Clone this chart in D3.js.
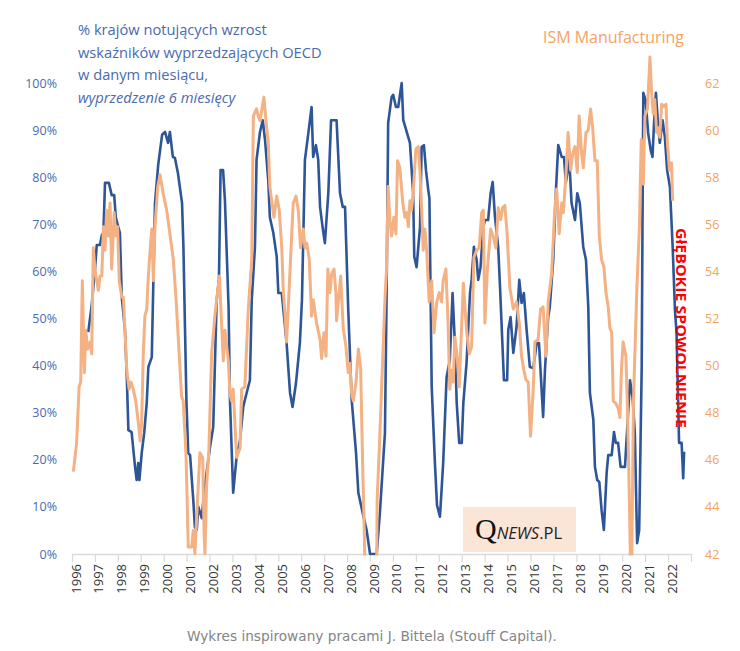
<!DOCTYPE html>
<html><head><meta charset="utf-8">
<script src="https://cdn.jsdelivr.net/npm/d3@7"></script>
<style>body{margin:0;background:#fff}svg{display:block}</style>
</head><body>
<svg id="c" width="740" height="651"></svg>
<script>
const yearLabels = ["1996","1997","1998","1999","2000","2001","2002","2003","2004","2005","2006","2007","2008","2009","2010","2011","2012","2013","2014","2015","2016","2017","2018","2019","2020","2021","2022"];
const yearTicks = [1996,1997,1998,1999,2000,2001,2002,2003,2004,2005,2006,2007,2008,2009,2010,2011,2012,2013,2014,2015,2016,2017,2018,2019,2020,2021,2022,2023];
const leftTicks = [0,10,20,30,40,50,60,70,80,90,100];
const rightTicks = [42,44,46,48,50,52,54,56,58,60,62];
const titleLines = ["% krajów notujących wzrost","wskaźników wyprzedzających OECD","w danym miesiącu,","wyprzedzenie 6 miesięcy"];
const ismLabel = "ISM Manufacturing";
const noteLabel = "GłĘBOKIE SPOWOLNIENIE";
const footer = "Wykres inspirowany pracami J. Bittela (Stouff Capital).";

// OECD: % of countries with rising leading indicators (6-month lead) [decimal year, %]
const oecdSeries = [
[1996.71,47.1],[1996.86,52.9],
[1997.00,60.3],[1997.08,65.6],[1997.22,65.6],[1997.30,67.7],[1997.37,68.2],[1997.44,78.8],[1997.61,78.8],[1997.73,76.2],[1997.84,76.2],[1997.91,71.5],
[1998.02,69.4],[1998.09,68.2],[1998.17,54.6],[1998.31,47.6],[1998.39,37.6],[1998.46,26.3],[1998.60,25.9],[1998.75,18.5],[1998.82,15.7],[1998.89,19.3],[1998.94,15.7],
[1999.04,21.4],[1999.15,25.7],[1999.26,32.1],[1999.33,39.7],[1999.48,41.8],[1999.55,58.2],[1999.62,74.5],[1999.76,82.6],[1999.93,89.0],
[2000.06,89.6],[2000.19,87.3],[2000.27,89.6],[2000.40,84.3],[2000.49,84.1],[2000.62,80.9],[2000.80,74.5],[2000.86,65.2],[2000.93,47.6],[2000.99,32.7],
[2001.07,21.4],[2001.15,21.0],[2001.29,11.5],[2001.36,5.7],[2001.44,5.1],[2001.51,10.0],[2001.66,7.6],[2001.73,11.5],[2001.87,17.2],
[2002.02,22.7],[2002.16,27.0],[2002.31,53.9],[2002.41,58.2],[2002.48,81.5],[2002.59,81.5],[2002.67,75.2],[2002.76,62.4],[2002.83,52.4],[2002.89,32.7],
[2003.03,13.0],[2003.18,20.6],[2003.33,24.2],[2003.47,31.2],[2003.54,32.7],[2003.76,36.9],[2003.84,53.9],[2003.98,65.2],
[2004.05,83.7],[2004.20,89.6],[2004.32,92.1],[2004.42,87.9],[2004.56,79.4],[2004.63,71.5],[2004.78,68.2],[2004.93,63.1],
[2005.00,55.4],[2005.15,55.4],[2005.36,44.8],[2005.51,34.2],[2005.62,31.2],[2005.77,36.3],[2005.94,44.8],
[2006.03,53.9],[2006.16,83.7],[2006.31,89.4],[2006.45,94.9],[2006.52,84.3],[2006.64,86.8],[2006.74,83.7],[2006.82,73.7],[2006.93,69.4],
[2007.03,66.0],[2007.18,76.6],[2007.30,92.1],[2007.54,92.1],[2007.69,76.6],[2007.81,73.7],[2007.91,73.7],
[2008.05,51.8],[2008.20,32.7],[2008.39,21.4],[2008.49,13.0],[2008.68,8.7],[2008.85,5.1],
[2009.00,0],[2009.29,0],[2009.43,8.7],[2009.65,25.7],[2009.72,53.9],[2009.79,91.5],[2009.94,97.0],
[2010.01,97.5],[2010.13,94.9],[2010.23,94.9],[2010.38,100],[2010.45,92.1],[2010.60,89.6],[2010.74,87.3],[2010.88,76.6],[2010.93,63.1],
[2011.03,60.9],[2011.18,69.4],[2011.25,86.4],[2011.35,86.8],[2011.44,81.5],[2011.54,77.3],[2011.59,75.5],[2011.69,35.5],[2011.83,19.3],[2011.92,10.4],
[2012.05,7.9],[2012.19,19.3],[2012.34,37.6],[2012.48,41.2],[2012.60,55.4],[2012.70,44.8],[2012.78,32.1],[2012.89,23.6],
[2013.00,23.6],[2013.07,32.1],[2013.21,40.6],[2013.36,55.4],[2013.43,58.2],[2013.53,65.2],[2013.65,62.4],[2013.72,58.2],[2013.82,60.9],[2013.94,69.4],
[2014.01,70.9],[2014.15,70.9],[2014.26,76.6],[2014.35,79.0],[2014.45,71.5],[2014.59,65.2],[2014.67,56.7],[2014.84,36.9],[2014.98,36.9],
[2015.03,47.6],[2015.13,50.3],[2015.25,42.7],[2015.39,48.2],[2015.51,58.2],[2015.61,53.3],[2015.71,55.4],[2015.83,47.6],[2015.97,39.7],
[2016.12,39.5],[2016.27,44.8],[2016.37,44.8],[2016.55,29.1],[2016.63,39.1],[2016.77,50.3],[2016.84,52.4],[2016.99,62.4],
[2017.11,77.3],[2017.21,86.8],[2017.36,84.3],[2017.46,84.3],[2017.54,78.8],[2017.69,83.7],[2017.79,74.5],[2017.94,70.9],
[2018.04,76.6],[2018.15,74.5],[2018.30,65.2],[2018.42,62.4],[2018.52,52.4],[2018.59,34.2],[2018.74,28.5],[2018.81,18.5],[2018.91,15.7],
[2019.00,15.3],[2019.10,9.3],[2019.20,5.1],[2019.32,17.2],[2019.39,21.0],[2019.54,21.0],[2019.64,25.9],[2019.72,23.6],[2019.82,23.6],[2019.93,18.5],
[2020.12,18.5],[2020.34,36.9],[2020.45,33.3],[2020.55,25.7],[2020.65,2.3],[2020.74,5.1],[2020.85,39.7],[2020.89,75.2],[2020.92,97.9],
[2021.02,96.4],[2021.13,89.4],[2021.24,85.8],[2021.32,84.3],[2021.38,90.7],[2021.47,97.9],[2021.57,90.7],[2021.64,87.3],[2021.76,92.1],[2021.86,88.5],[2021.96,81.5],
[2022.08,77.9],[2022.20,65.2],[2022.30,51.8],[2022.37,46.9],[2022.48,23.6],[2022.59,23.6],[2022.66,16.1],[2022.70,21.7]
];

// ISM Manufacturing PMI [decimal year, index]
const ismSeries = [
[1996.06,45.5],[1996.20,46.7],[1996.31,49.1],[1996.38,49.3],[1996.45,53.6],[1996.54,49.7],[1996.60,51.5],[1996.68,50.7],[1996.79,51.0],[1996.86,50.5],[1996.93,55.0],
[1997.00,54.1],[1997.08,53.6],[1997.15,53.2],[1997.22,53.8],[1997.30,53.8],[1997.37,55.9],[1997.44,54.9],[1997.51,56.6],[1997.58,55.5],[1997.66,56.9],[1997.73,54.1],[1997.84,56.5],[1997.91,55.5],[1997.99,55.9],
[1998.06,53.6],[1998.17,52.9],[1998.24,52.9],[1998.31,51.5],[1998.39,49.8],[1998.49,49.0],[1998.57,49.3],[1998.67,49.0],[1998.78,48.5],[1998.89,47.6],[1998.97,46.8],
[1999.04,47.6],[1999.11,50.5],[1999.18,52.1],[1999.26,52.4],[1999.33,53.8],[1999.40,54.8],[1999.48,55.8],[1999.55,53.6],[1999.62,55.9],[1999.74,57.6],[1999.84,58.1],[1999.98,57.3],
[2000.13,56.6],[2000.27,55.6],[2000.42,54.5],[2000.54,52.8],[2000.64,51.1],[2000.78,48.7],[2000.85,48.5],[2000.97,46.3],
[2001.03,44.0],[2001.07,42.3],[2001.22,42.3],[2001.29,43.0],[2001.36,42.0],[2001.58,46.3],[2001.70,46.1],[2001.76,42.9],[2001.80,42.0],[2001.87,44.9],[2001.97,46.4],
[2002.09,50.5],[2002.24,52.2],[2002.43,53.8],[2002.60,50.2],[2002.67,51.5],[2002.82,50.2],[2002.89,48.8],[2002.96,48.5],
[2003.03,49.0],[2003.18,46.1],[2003.33,46.5],[2003.40,49.0],[2003.54,49.1],[2003.69,52.4],[2003.84,54.5],[2003.91,60.6],
[2004.05,60.9],[2004.12,60.6],[2004.20,60.4],[2004.37,61.4],[2004.46,60.4],[2004.56,59.5],[2004.63,57.6],[2004.71,57.0],[2004.81,56.3],[2004.93,57.2],
[2005.04,56.6],[2005.15,55.0],[2005.22,53.1],[2005.29,52.2],[2005.36,51.0],[2005.43,52.4],[2005.65,56.9],[2005.77,57.2],[2005.87,56.6],[2005.97,55.0],
[2006.09,55.8],[2006.16,55.0],[2006.24,55.2],[2006.35,54.5],[2006.45,52.1],[2006.52,52.8],[2006.67,51.8],[2006.82,51.1],[2006.89,50.3],[2006.99,51.4],
[2007.08,50.4],[2007.16,54.1],[2007.25,53.1],[2007.33,53.9],[2007.43,54.1],[2007.51,53.1],[2007.54,51.9],[2007.72,53.8],[2007.83,51.6],[2007.95,50.8],
[2008.05,49.7],[2008.12,50.1],[2008.20,48.8],[2008.27,48.5],[2008.39,49.3],[2008.49,50.7],[2008.59,49.9],[2008.68,45.7],[2008.75,42.9],[2008.83,38.9],[2008.92,36.2],
[2009.00,32.9],[2009.08,35.6],[2009.17,35.8],[2009.25,36.3],[2009.31,44.3],[2009.43,47.1],[2009.58,51.0],[2009.65,52.8],[2009.72,54.1],[2009.79,57.6],[2009.87,56.1],[2009.94,55.5],
[2010.04,56.3],[2010.13,55.6],[2010.20,58.7],[2010.30,58.4],[2010.42,57.0],[2010.52,56.3],[2010.60,56.5],[2010.67,55.9],[2010.74,57.0],[2010.81,56.6],[2010.88,57.3],
[2011.00,59.2],[2011.10,59.3],[2011.18,58.2],[2011.25,56.7],[2011.32,54.9],[2011.39,55.8],[2011.47,54.9],[2011.58,52.7],[2011.69,53.6],[2011.79,51.4],[2011.91,52.7],
[2012.02,53.1],[2012.12,52.7],[2012.19,53.6],[2012.31,54.1],[2012.40,51.9],[2012.48,49.0],[2012.56,49.8],[2012.63,49.3],[2012.70,51.2],[2012.80,50.4],[2012.89,49.1],
[2013.00,51.8],[2013.07,53.5],[2013.21,51.5],[2013.33,50.5],[2013.43,50.8],[2013.53,54.6],[2013.65,54.9],[2013.76,55.0],[2013.87,56.5],[2013.94,56.6],
[2014.01,51.8],[2014.12,54.1],[2014.26,55.8],[2014.37,55.5],[2014.49,55.0],[2014.59,56.7],[2014.70,56.2],[2014.78,56.7],[2014.88,56.8],[2014.98,55.6],
[2015.10,53.3],[2015.25,52.4],[2015.39,52.7],[2015.51,51.8],[2015.61,50.4],[2015.71,49.8],[2015.80,49.4],[2015.90,49.3],
[2016.00,47.0],[2016.12,49.0],[2016.19,51.0],[2016.33,51.1],[2016.44,52.4],[2016.55,52.5],[2016.67,50.4],[2016.77,52.7],[2016.92,53.9],
[2017.06,56.7],[2017.14,57.5],[2017.25,55.6],[2017.36,56.9],[2017.43,56.5],[2017.54,58.0],[2017.64,59.9],[2017.75,58.3],[2017.84,59.0],[2017.94,59.3],
[2018.04,58.2],[2018.12,60.6],[2018.23,59.0],[2018.30,58.4],[2018.42,59.9],[2018.52,60.0],[2018.62,60.9],[2018.71,60.1],[2018.81,58.7],[2018.91,58.7],
[2019.00,55.5],[2019.10,54.5],[2019.20,54.2],[2019.29,53.1],[2019.39,52.5],[2019.46,51.6],[2019.54,51.4],[2019.61,48.5],[2019.72,48.4],[2019.82,48.2],[2019.90,47.8],[2019.97,49.9],
[2020.04,51.0],[2020.16,50.4],[2020.22,48.5],[2020.29,45.4],[2020.36,41.6],[2020.42,42.0],[2020.49,48.5],[2020.64,53.3],[2020.75,55.9],[2020.83,59.6],[2020.92,57.7],[2020.99,60.6],
[2021.10,60.9],[2021.21,63.1],[2021.28,61.6],[2021.35,60.7],[2021.42,61.3],[2021.50,59.9],[2021.57,60.1],[2021.64,59.7],[2021.72,61.1],[2021.82,61.0],[2021.91,61.1],[2021.97,59.5],
[2022.06,58.3],[2022.15,58.6],[2022.20,57.0]
];

const svg = d3.select("#c");
const x = d3.scaleLinear().domain([1996, 2023]).range([72, 691]);
const yL = d3.scaleLinear().domain([0, 100]).range([554, 83]);
const yR = d3.scaleLinear().domain([42, 62]).range([554, 83]);

const blue = "#2E5597", orange = "#F4B183";
const titleBlue = "#4A6AAE", labelOrange = "#F5A262";
const font = "'Open Sans', sans-serif";

svg.append("defs").append("clipPath").attr("id","plot")
  .append("rect").attr("x",60).attr("y",0).attr("width",640).attr("height",555.5);

// x axis
const xAxis = d3.axisBottom(x).tickValues(yearTicks).tickSizeInner(8).tickSizeOuter(0)
  .tickFormat((d,i) => yearLabels[i] || "");
const gx = svg.append("g").attr("transform","translate(0,554)").call(xAxis);
gx.select(".domain").attr("stroke","#D9D9D9").attr("stroke-width",1.5);
gx.selectAll(".tick line").attr("stroke","#D9D9D9").attr("stroke-width",1.2);
gx.selectAll(".tick text")
  .attr("transform","rotate(-90)")
  .attr("x",-10).attr("y",8).attr("dy",0)
  .attr("text-anchor","end")
  .attr("fill","#333333")
  .style("font-family",font).style("font-size","13px");

// left axis
const gl = svg.append("g").attr("transform","translate(60,0)")
  .call(d3.axisLeft(yL).tickValues(leftTicks).tickSize(0).tickPadding(3).tickFormat(d => d + "%"));
gl.select(".domain").remove();
gl.selectAll("text").attr("fill",titleBlue).style("font-family",font).style("font-size","12.5px");

// right axis
const gr = svg.append("g").attr("transform","translate(702,0)")
  .call(d3.axisRight(yR).tickValues(rightTicks).tickSize(0).tickPadding(3));
gr.select(".domain").remove();
gr.selectAll("text").attr("fill",labelOrange).style("font-family",font).style("font-size","12.5px");

// lines
const plot = svg.append("g").attr("clip-path","url(#plot)");
const lineL = d3.line().x(d => x(d[0])).y(d => yL(d[1]));
const lineR = d3.line().x(d => x(d[0])).y(d => yR(d[1]));
plot.append("path").datum(oecdSeries).attr("d",lineL)
  .attr("fill","none").attr("stroke",blue).attr("stroke-width",2.6).attr("stroke-linejoin","round");
plot.append("path").datum(ismSeries).attr("d",lineR)
  .attr("fill","none").attr("stroke",orange).attr("stroke-width",3).attr("stroke-linejoin","round");

function fit(sel, w){
  const cur = parseFloat(sel.style("font-size"));
  const len = sel.node().getComputedTextLength();
  sel.style("font-size", (cur * w / len) + "px");
}

// title
const tg = svg.append("g");
const tt = titleLines.map((t,i) => tg.append("text").attr("x",78).attr("y",35 + i*22.6)
  .attr("fill",titleBlue).style("font-family",font).style("font-size","14px")
  .style("font-style", i === 3 ? "italic" : "normal").text(t));
{
  const cur = 14, len = tt[1].node().getComputedTextLength();
  tt.forEach(s => s.style("font-size",(cur*244/len)+"px"));
}

// ISM label
const ism = svg.append("text").attr("x",543).attr("y",43).attr("fill",labelOrange)
  .style("font-family",font).style("font-size","15.5px").text(ismLabel);
fit(ism, 141);

// red note (vertical)
svg.append("text").attr("transform","translate(676,228) rotate(90)")
  .attr("fill","#FF0000").style("font-family",font).style("font-weight","bold")
  .style("font-size","13.5px").attr("textLength",200).attr("lengthAdjust","spacingAndGlyphs")
  .text(noteLabel);

// Qnews badge
svg.append("rect").attr("x",463).attr("y",507).attr("width",113).attr("height",45).attr("fill","#FBE5D6");
const q = svg.append("text").attr("x",475).attr("y",539);
q.append("tspan").text("Q").style("font-family","'Liberation Serif', serif").style("font-size","30px").attr("fill","#111");
q.append("tspan").text("NEWS").style("font-family",font).style("font-style","italic").style("font-size","16.5px").attr("fill","#222");
q.append("tspan").text(".PL").style("font-family",font).style("font-size","16.5px").attr("fill","#222");

// footer
const ft = svg.append("text").attr("x",187).attr("y",641).attr("fill","#858585")
  .style("font-family","'DejaVu Sans', sans-serif").style("font-size","12px").text(footer);
fit(ft, 370);
</script>
</body></html>
